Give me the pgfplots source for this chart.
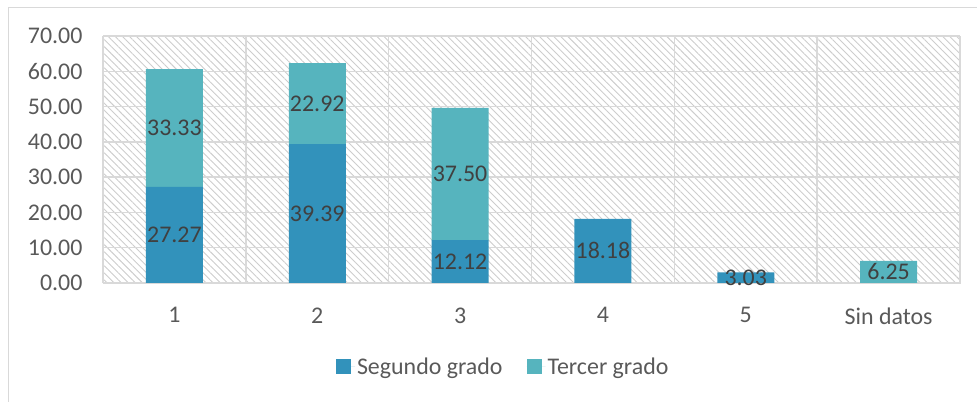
\documentclass[border=0pt]{standalone}
\usepackage{fontspec}
\setmainfont{Carlito}
\usepackage{pgfplots}
\pgfplotsset{compat=1.18}
\usetikzlibrary{patterns.meta}

\definecolor{segundo}{RGB}{50,146,187}
\definecolor{tercer}{RGB}{86,180,190}
\definecolor{gridgray}{RGB}{217,217,217}
\definecolor{hatchgray}{RGB}{205,205,205}
\definecolor{ticktext}{RGB}{89,89,89}
\definecolor{labeltext}{RGB}{64,64,64}

\pgfplotsset{
  common/.style={
    at={(103bp,119bp)}, anchor=south west,
    scale only axis, width=857bp, height=247bp,
    xmin=-0.5, xmax=5.5, ymin=0, ymax=70,
  },
}

\begin{document}
\begin{tikzpicture}
\useasboundingbox (0,0) rectangle (977bp,402bp);
\draw[gridgray, line width=0.9bp] (8.5bp,0) -- (8.5bp,395bp) -- (977bp,395bp);

\begin{axis}[
    common,
    ybar stacked,
    bar width=57bp,
    font=\fontsize{24}{28}\selectfont,
    axis background/.style={pattern={Lines[angle=-45, distance=5bp, line width=0.9bp]}, pattern color=hatchgray},
    axis line style={gridgray, line width=1bp},
    xtick=data,
    xticklabels={1,2,3,4,5,Sin datos},
    minor xtick={-0.5,0.5,...,5.5},
    ytick={0,10,...,70},
    xminorgrids=true, ymajorgrids=true, xmajorgrids=false,
    grid style={gridgray, line width=1.5bp},
    minor grid style={gridgray, line width=1.5bp},
    major tick length=0pt, minor tick length=0pt,
    tick style={draw=none},
    tick label style={text=ticktext},
    xticklabel style={yshift=-21bp},
    yticklabel style={xshift=-17bp},
    /pgf/number format/assume math mode=true,
    yticklabel={\pgfmathprintnumber[fixed,fixed zerofill,precision=2]{\tick}},
    legend columns=2,
    legend style={at={(0.467,-0.34)}, anchor=center, draw=none, fill=none,
      text=ticktext, /tikz/every even column/.append style={column sep=22bp}},
    legend image code/.code={\path (0bp,0bp) -- (19bp,0bp);
      \fill[#1] (0bp,-7.5bp) rectangle (15bp,7.5bp);},
]
\addplot[fill=segundo, draw=none] coordinates {(0,27.27) (1,39.39) (2,12.12) (3,18.18) (4,3.03) (5,0)};
\addplot[fill=tercer, draw=none] coordinates {(0,33.33) (1,22.92) (2,37.50) (3,0) (4,0) (5,6.25)};
\legend{Segundo grado, Tercer grado}
\end{axis}

\begin{axis}[
    common,
    hide axis,
    font=\fontsize{24}{28}\selectfont,
]
\addplot[draw=none, mark=none, nodes near coords, point meta=explicit symbolic,
  every node near coord/.append style={anchor=center, text=labeltext}]
  table[meta=label] {
x y label
0 13.635 27.27
0 43.935 33.33
1 19.695 39.39
1 50.85 22.92
2 6.06 12.12
2 30.87 37.50
3 9.09 18.18
4 1.515 3.03
5 3.125 6.25
};
\end{axis}
\end{tikzpicture}
\end{document}
